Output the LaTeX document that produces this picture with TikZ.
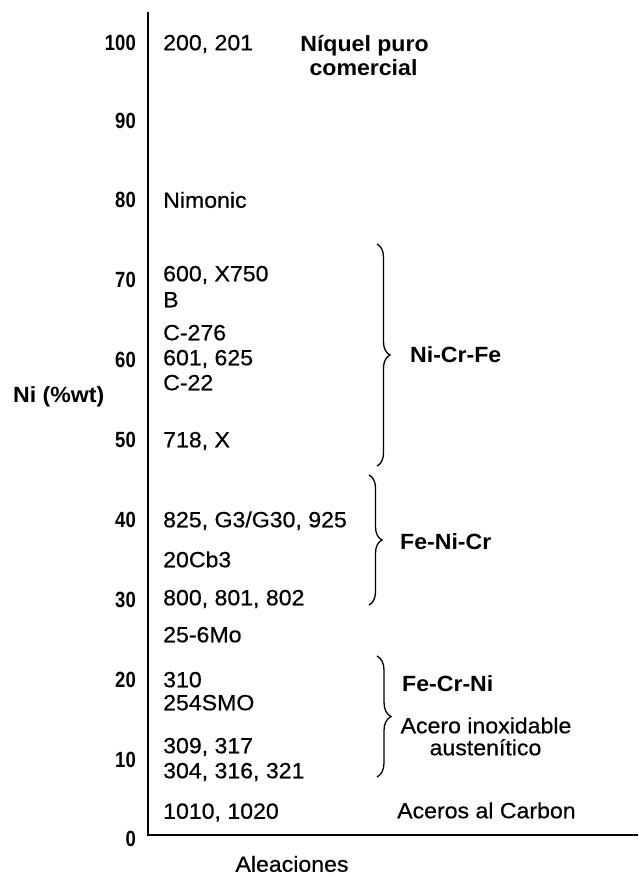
\documentclass[tikz,border=0pt]{standalone}
\usepackage{fontspec}
\setmainfont{Liberation Sans}[FakeStretch=1.05, UprightFeatures={FakeBold=0.5}]
\newfontfamily\tickfont{Liberation Sans}[FakeStretch=0.84]
\usetikzlibrary{decorations.pathreplacing}
\begin{document}
\begin{tikzpicture}[x=1pt,y=-1pt,
  lbl/.style={font=\fontsize{22}{23}\selectfont, inner sep=0pt, text height=15.5pt, text depth=0pt},
  alloy/.style={lbl, anchor=west},
  bold/.style={lbl, font=\bfseries\fontsize{22}{23}\selectfont},
  grp/.style={bold, anchor=west},
  tick/.style={lbl, font=\tickfont\bfseries\fontsize{22}{23}\selectfont, anchor=east},
  axisline/.style={line width=2.6pt, line join=miter},
  brc/.style={decorate, decoration={brace, amplitude=#1}, line width=1.3pt}]
\useasboundingbox (0,0) rectangle (638,877);
% axes
\coordinate (top) at (148,12);
\coordinate (origin) at (148,835);
\coordinate (xend) at (638,835);
\draw[axisline] (top) -- (origin) -- (xend);
% tick labels
\node[tick] (t100) at (136,42.5) {100};
\node[tick] (t90) at (136,121) {90};
\node[tick] (t80) at (136,200) {80};
\node[tick] (t70) at (136,280) {70};
\node[tick] (t60) at (136,359.5) {60};
\node[tick] (t50) at (136,439.5) {50};
\node[tick] (t40) at (136,519.5) {40};
\node[tick] (t30) at (136,599.5) {30};
\node[tick] (t20) at (136,679.5) {20};
\node[tick] (t10) at (136,759.5) {10};
\node[tick] (t0) at (136,838.5) {0};
% axis titles
\node[bold, anchor=west] (ylab) at (13,395) {Ni (\%wt)};
\node[lbl] (xlab) at (292,864) {Aleaciones};
% alloys
\node[alloy] (a1) at (163,42.5) {200, 201};
\node[alloy] (a2) at (163,200) {Nimonic};
\node[alloy] (a3) at (163,273.5) {600, X750};
\node[alloy] (a4) at (163,299.5) {B};
\node[alloy] (a5) at (163,332.5) {C-276};
\node[alloy] (a6) at (163,357.5) {601, 625};
\node[alloy] (a7) at (163,382.5) {C-22};
\node[alloy] (a8) at (163,439.5) {718, X};
\node[alloy] (a9) at (163,519.5) {825, G3/G30, 925};
\node[alloy] (a10) at (163,559.5) {20Cb3};
\node[alloy] (a11) at (163,597.5) {800, 801, 802};
\node[alloy] (a12) at (163,634.5) {25-6Mo};
\node[alloy] (a13) at (163,679.5) {310};
\node[alloy] (a14) at (163,702.5) {254SMO};
\node[alloy] (a15) at (163,745.5) {309, 317};
\node[alloy] (a16) at (163,770.5) {304, 316, 321};
\node[alloy] (a17) at (163,811) {1010, 1020};
% group labels
\node[bold] (g1a) at (364.5,43.5) {Níquel puro};
\node[bold] (g1b) at (363.5,67.5) {comercial};
\node[grp] (g2) at (410,355) {Ni-Cr-Fe};
\node[grp] (g3) at (400,541.5) {Fe-Ni-Cr};
\node[grp] (g4) at (402,683.5) {Fe-Cr-Ni};
\node[lbl] (g5a) at (486,725.5) {Acero inoxidable};
\node[lbl] (g5b) at (485.5,747.5) {austenítico};
\node[alloy] (g6) at (397,810.5) {Aceros al Carbon};
% braces
\coordinate (b1t) at (377,244);
\coordinate (b1b) at (377,466);
\coordinate (b2t) at (369,475);
\coordinate (b2b) at (369,605);
\coordinate (b3t) at (377,656);
\coordinate (b3b) at (377,777);
\draw[brc=13pt] (b1t) -- (b1b);
\draw[brc=13pt] (b2t) -- (b2b);
\draw[brc=14pt] (b3t) -- (b3b);
\end{tikzpicture}
\end{document}
